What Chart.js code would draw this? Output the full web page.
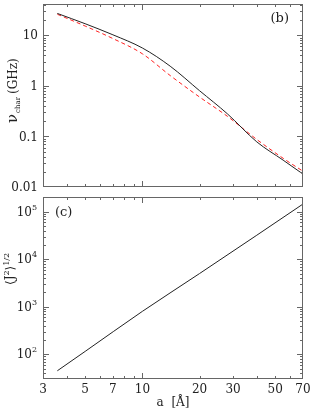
<!DOCTYPE html>
<html>
<head>
<meta charset="utf-8">
<script src="https://cdn.jsdelivr.net/npm/chart.js"></script>
<style>
    body { margin: 0; background: #fff; }
    #wrap { position: relative; width: 314px; height: 411px; }
    canvas { position: absolute; left: 0; }
</style>
</head>
<body>
<div id="wrap">
    <canvas id="nuChart" width="314" height="192" style="top:0px"></canvas>
    <canvas id="jChart" width="314" height="219" style="top:192px"></canvas>
</div>
<script>
// 数据 (b): 特征频率 nu_char (GHz) vs a (Å)
const aSolid = [3.57, 5, 7, 10, 14, 20, 28, 40, 55, 70];
const nuSolid = [27, 16.9, 10.2, 5.6, 2.45, 0.8, 0.28, 0.078, 0.034, 0.018];
const aDashed = [3.57, 5, 7, 10, 14, 20, 28, 40, 55, 70];
const nuDashed = [26, 15.2, 8.6, 4.3, 1.6, 0.6, 0.25, 0.087, 0.037, 0.0205];

// 数据 (c): <J^2>^(1/2) vs a (Å)
const aJ = [3.57, 5, 10, 20, 40, 70];
const jRms = [45, 115, 800, 5000, 32000, 145000];

// 刻度
const xTickLabels = [3, 5, 7, 10, 20, 30, 50, 70];
const xMinorTicks = [4, 5, 6, 7, 8, 9, 20, 30, 40, 50, 60];
const xMajorTicks = [10];
const nuTickValues = [0.01, 0.1, 1, 10];
const nuTickLabels = ['0.01', '0.1', '1', '10'];
const jTickValues = [100, 1000, 10000, 100000];
const jTickExponents = ['2', '3', '4', '5'];

const FONT = '"DejaVu Serif", "Liberation Serif", serif';

const toPoints = (xs, ys) => xs.map((x, i) => ({ x, y: ys[i] }));

// 画边框和向内的刻度
const framePlugin = {
    id: 'frameTicks',
    afterDraw(chart, args, opts) {
        const ctx = chart.ctx;
        const area = chart.chartArea;
        const xs = chart.scales.x;
        const ys = chart.scales.y;
        ctx.save();
        ctx.strokeStyle = '#666';
        ctx.lineWidth = 1;
        ctx.strokeRect(area.left + 0.5, area.top + 0.5, area.right - area.left - 1, area.bottom - area.top - 1);

        ctx.beginPath();
        const xTick = (v, len) => {
            const px = Math.round(xs.getPixelForValue(v)) + 0.5;
            ctx.moveTo(px, area.bottom); ctx.lineTo(px, area.bottom - len);
            ctx.moveTo(px, area.top); ctx.lineTo(px, area.top + len);
        };
        xMinorTicks.forEach(v => xTick(v, 3));
        xMajorTicks.forEach(v => xTick(v, 6));

        const lo = Math.floor(Math.log10(ys.min));
        const hi = Math.ceil(Math.log10(ys.max));
        for (let d = lo; d <= hi; d++) {
            for (let m = 1; m <= 9; m++) {
                const v = m * Math.pow(10, d);
                if (v <= ys.min || v >= ys.max) continue;
                const len = m === 1 ? 6 : 3;
                const py = Math.round(ys.getPixelForValue(v)) + 0.5;
                ctx.moveTo(area.left, py); ctx.lineTo(area.left + len, py);
                ctx.moveTo(area.right, py); ctx.lineTo(area.right - len, py);
            }
        }
        ctx.stroke();

        ctx.fillStyle = '#222';
        if (opts.drawLabels) opts.drawLabels(chart, ctx);
        ctx.restore();
    }
};

function baseOptions(yMin, yMax, padding, drawLabels) {
    return {
        responsive: false,
        animation: false,
        layout: { padding },
        plugins: {
            legend: { display: false },
            tooltip: { enabled: false },
            frameTicks: { drawLabels }
        },
        scales: {
            x: { type: 'logarithmic', min: 3, max: 70, display: false },
            y: { type: 'logarithmic', min: yMin, max: yMax, display: false }
        }
    };
}

// (b) 图
new Chart(document.getElementById('nuChart'), {
    type: 'line',
    data: {
        datasets: [{
            data: toPoints(aSolid, nuSolid),
            borderColor: '#222',
            borderWidth: 1,
            pointRadius: 0,
            cubicInterpolationMode: 'monotone'
        }, {
            data: toPoints(aDashed, nuDashed),
            borderColor: '#ff2020',
            borderWidth: 1,
            borderDash: [4, 3],
            pointRadius: 0,
            cubicInterpolationMode: 'monotone'
        }]
    },
    plugins: [framePlugin],
    options: baseOptions(0.01, Math.pow(10, 1.618), { left: 43, right: 11, top: 4, bottom: 5 }, (chart, ctx) => {
        const ys = chart.scales.y;
        ctx.font = '12px ' + FONT;
        ctx.textAlign = 'right';
        ctx.textBaseline = 'middle';
        nuTickValues.forEach((v, i) => ctx.fillText(nuTickLabels[i], 38, ys.getPixelForValue(v) + 1));

        ctx.font = '13px ' + FONT;
        ctx.textAlign = 'right';
        ctx.textBaseline = 'alphabetic';
        ctx.fillText('(b)', 289, 22);

        // 纵轴标题: nu_char (GHz)
        ctx.save();
        ctx.translate(17, 123);
        ctx.rotate(-Math.PI / 2);
        ctx.textAlign = 'left';
        ctx.font = '15px ' + FONT;
        ctx.fillText('ν', 0, 0);
        let x = ctx.measureText('ν').width + 1;
        ctx.font = '7px ' + FONT;
        ctx.fillText('char', x, 3);
        x += ctx.measureText('char').width + 3;
        ctx.font = '12px ' + FONT;
        ctx.fillText('(GHz)', x, 0);
        ctx.restore();
    })
});

// (c) 图
new Chart(document.getElementById('jChart'), {
    type: 'line',
    data: {
        datasets: [{
            data: toPoints(aJ, jRms),
            borderColor: '#222',
            borderWidth: 1,
            pointRadius: 0,
            cubicInterpolationMode: 'monotone'
        }]
    },
    plugins: [framePlugin],
    options: baseOptions(Math.pow(10, 1.48), Math.pow(10, 5.309), { left: 43, right: 11, top: 5, bottom: 32 }, (chart, ctx) => {
        const xs = chart.scales.x;
        const ys = chart.scales.y;
        ctx.textBaseline = 'middle';
        jTickValues.forEach((v, i) => {
            const py = ys.getPixelForValue(v) + 1;
            ctx.font = '12px ' + FONT;
            ctx.textAlign = 'right';
            ctx.fillText('10', 32, py);
            ctx.font = '8px ' + FONT;
            ctx.textAlign = 'left';
            ctx.fillText(jTickExponents[i], 32, py - 5);
        });

        ctx.font = '12px ' + FONT;
        ctx.textAlign = 'center';
        xTickLabels.forEach(v => ctx.fillText(String(v), xs.getPixelForValue(v), 198));
        ctx.fillText('a  [Å]', 173, 211);

        ctx.font = '13px ' + FONT;
        ctx.textAlign = 'left';
        ctx.textBaseline = 'alphabetic';
        ctx.fillText('(c)', 55, 24);

        // 纵轴标题: <J^2>^(1/2)
        ctx.save();
        ctx.translate(14, 93);
        ctx.rotate(-Math.PI / 2);
        ctx.textAlign = 'left';
        ctx.font = '12px ' + FONT;
        let x = 0;
        ctx.fillText('⟨J', x, 0);
        x += ctx.measureText('⟨J').width;
        ctx.font = '8px ' + FONT;
        ctx.fillText('2', x, -5);
        x += ctx.measureText('2').width;
        ctx.font = '12px ' + FONT;
        ctx.fillText('⟩', x, 0);
        x += ctx.measureText('⟩').width;
        ctx.font = '8px ' + FONT;
        ctx.fillText('1/2', x, -5);
        ctx.restore();
    })
});
</script>
</body>
</html>
